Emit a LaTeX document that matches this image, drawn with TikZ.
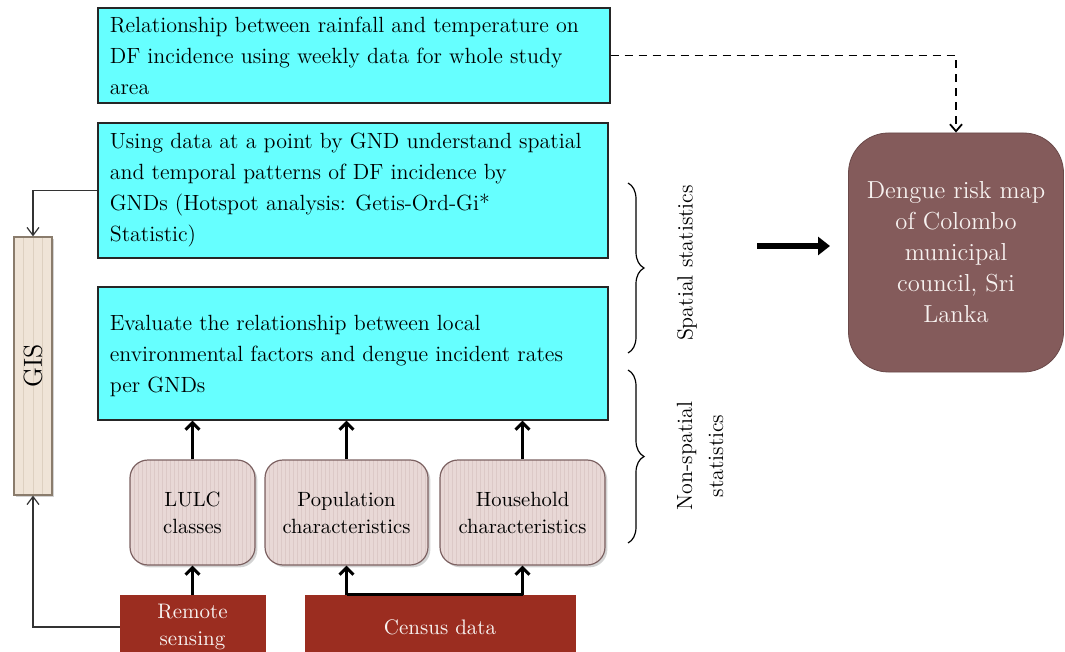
\documentclass[tikz,border=0pt]{standalone}
\usetikzlibrary{arrows.meta,decorations.pathreplacing,shadows,calc}
\definecolor{cyanbox}{HTML}{66FFFF}
\definecolor{pinkbox}{HTML}{E8D8D6}
\definecolor{pinkstripe}{HTML}{DCC9C7}
\definecolor{pinkborder}{HTML}{7D6262}
\definecolor{gisfill}{HTML}{EFE4D7}
\definecolor{gisstripe}{HTML}{DDD0C0}
\definecolor{gisborder}{HTML}{8A7C6C}
\definecolor{darkred}{HTML}{9B2D20}
\definecolor{riskbox}{HTML}{845B5B}
\definecolor{lighttext}{HTML}{F7F2F0}
\begin{document}
\begin{tikzpicture}[x=0.5pt,y=-0.5pt,
  cyanstyle/.style={draw=black!85, line width=0.6pt, fill=cyanbox, rectangle, inner sep=0pt},
  boxtext/.style={anchor=west, align=left, font=\fontsize{11}{15.5}\selectfont, inner sep=0pt},
  pinkstyle/.style={draw=pinkborder, line width=0.6pt, fill=pinkbox, rounded corners=9pt,
     align=center, font=\fontsize{10.3}{13.5}\selectfont, drop shadow={opacity=0.35, shadow xshift=1.2pt, shadow yshift=-1.2pt},
     path picture={\foreach \i in {0,...,45}{\draw[pinkstripe, line width=0.3pt]
        ([xshift=\i*2pt]path picture bounding box.south west) -- ([xshift=\i*2pt]path picture bounding box.north west);}}},
  gisstyle/.style={draw=gisborder, line width=0.6pt, fill=gisfill, inner sep=0pt,
     drop shadow={opacity=0.35, shadow xshift=1.2pt, shadow yshift=-1.2pt},
     path picture={\foreach \i in {1,...,3}{\draw[gisstripe, line width=0.4pt]
        ([xshift=\i*4.75pt]path picture bounding box.south west) -- ([xshift=\i*4.75pt]path picture bounding box.north west);}}},
  redstyle/.style={fill=darkred, draw=darkred, text=lighttext, align=center, font=\fontsize{10.5}{13.5}\selectfont, inner sep=0pt},
  thickarrow/.style={line width=1.5pt, -{Straight Barb[length=3.5pt,width=7pt]}},
  thinarrow/.style={line width=0.6pt, draw=black!80, -{Straight Barb[length=4pt,width=6pt]}},
  bracestyle/.style={decorate, decoration={brace, amplitude=8pt}, line width=0.6pt},
  rotlabel/.style={rotate=90, align=center, font=\fontsize{11}{15.5}\selectfont}
]
\useasboundingbox (0,0) rectangle (1065,652);

% cyan boxes
\node[cyanstyle, minimum width=256pt, minimum height=47.5pt] (b1) at (354,55.5) {};
\node[boxtext] (t1) at ([xshift=6pt]b1.west) {Relationship between rainfall and temperature on\\DF incidence using weekly data for whole study\\area};
\node[cyanstyle, minimum width=255pt, minimum height=67.5pt] (b2) at (353,190.5) {};
\node[boxtext] (t2) at ([xshift=6pt]b2.west) {Using data at a point by GND understand spatial\\and temporal patterns of DF incidence by\\GNDs (Hotspot analysis: Getis-Ord-Gi*\\Statistic)};
\node[cyanstyle, minimum width=255pt, minimum height=66.5pt] (b3) at (353,353.5) {};
\node[boxtext] (t3) at ([xshift=6pt,yshift=-1pt]b3.west) {Evaluate the relationship between local\\environmental factors and dengue incident rates\\per GNDs};

% GIS bar
\node[gisstyle, minimum width=19pt, minimum height=129pt] (gis) at (33,366) {};
\node[rotate=90, font=\fontsize{13}{15}\selectfont] (gistext) at (gis.center) {GIS};

% pink boxes
\node[pinkstyle, minimum width=62.5pt, minimum height=52.5pt] (lulc) at (192.5,512.5) {LULC\\classes};
\node[pinkstyle, minimum width=81.5pt, minimum height=52.5pt] (pop) at (346.5,512.5) {Population\\characteristics};
\node[pinkstyle, minimum width=82.5pt, minimum height=52.5pt] (house) at (522.5,512.5) {Household\\characteristics};

% red source boxes
\node[redstyle, minimum width=72.5pt, minimum height=32pt] (remote) at (192.5,627) {Remote\\sensing};
\node[redstyle, minimum width=135pt, minimum height=32pt] (census) at (440,627) {Census data};

% result box
\node[fill=riskbox, draw=riskbox!80!black, line width=0.4pt, rounded corners=20pt, minimum width=107.5pt, minimum height=119.5pt,
      text=lighttext, align=center, font=\fontsize{12.3}{15.5}\selectfont] (risk) at (956,252.5)
      {Dengue risk map\\of Colombo\\municipal\\council, Sri\\Lanka};

% arrows up into box 3
\draw[thickarrow] (lulc.north) -- (lulc.north |- b3.south);
\draw[thickarrow] (pop.north) -- (pop.north |- b3.south);
\draw[thickarrow] (house.north) -- (house.north |- b3.south);

% sources to pink boxes
\draw[thickarrow] (remote.north) -- (lulc.south);
\draw[line width=1.5pt] (census.north -| pop.south) -- (census.north -| house.south);
\draw[thickarrow] (census.north -| pop.south) -- (pop.south);
\draw[thickarrow] (census.north -| house.south) -- (house.south);

% GIS connectors
\draw[thinarrow] (b2.west) -| (gis.north);
\draw[thinarrow] (remote.west) -| (gis.south);

% dashed connector
\draw[line width=0.9pt, dashed, dash pattern=on 4pt off 3pt, -{Straight Barb[length=3.5pt,width=6pt]}] (b1.east) -| (risk.north);

% braces
\coordinate (s1) at (628,183);
\coordinate (s2) at (628,353);
\coordinate (n1) at (628,370);
\coordinate (n2) at (628,543);
\draw[bracestyle] (s1) -- (s2);
\draw[bracestyle] (n1) -- (n2);
\node[rotlabel] (spl) at (687,263) {Spatial statistics};
\node[rotlabel] (nspl) at (700,456) {Non-spatial\\statistics};

% big arrow
\coordinate (bigS) at (757,246);
\coordinate (bigE) at (830,246);
\draw[line width=3pt, -{Triangle[length=6pt,width=9pt]}] (bigS) -- (bigE);
\end{tikzpicture}
\end{document}
